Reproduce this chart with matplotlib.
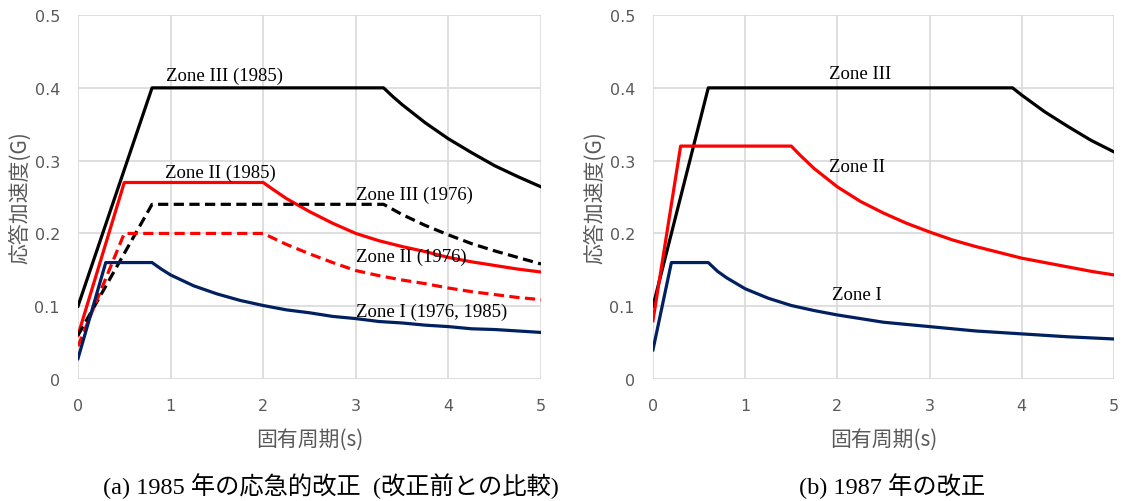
import matplotlib
matplotlib.use("Agg")
import matplotlib.pyplot as plt

# (a) 1985 emergency revision compared with the 1976 code
t_z3_85 = [0, 0.8, 3.3, 3.4, 3.5, 3.75, 4.0, 4.25, 4.5, 4.75, 5.0]
a_z3_85 = [0.10, 0.40, 0.40, 0.388, 0.377, 0.352, 0.330, 0.311, 0.293, 0.278, 0.264]

t_z2_85 = [0, 0.5, 2.0, 2.1, 2.25, 2.5, 2.75, 3.0, 3.25, 3.5, 3.75, 4.0, 4.25, 4.5, 4.75, 5.0]
a_z2_85 = [0.06, 0.27, 0.27, 0.261, 0.248, 0.230, 0.214, 0.200, 0.190, 0.182, 0.175, 0.167, 0.161, 0.156, 0.151, 0.147]

t_z3_76 = [0, 0.8, 3.3, 3.4, 3.5, 3.75, 4.0, 4.25, 4.5, 4.75, 5.0]
a_z3_76 = [0.06, 0.24, 0.24, 0.233, 0.226, 0.211, 0.198, 0.186, 0.176, 0.167, 0.158]

t_z2_76 = [0, 0.5, 2.0, 2.1, 2.25, 2.5, 2.75, 3.0, 3.25, 3.5, 3.75, 4.0, 4.25, 4.5, 4.75, 5.0]
a_z2_76 = [0.045, 0.20, 0.20, 0.194, 0.185, 0.172, 0.160, 0.149, 0.142, 0.136, 0.131, 0.125, 0.120, 0.116, 0.112, 0.109]

t_z1_85 = [0, 0.3, 0.8, 0.9, 1.0, 1.25, 1.5, 1.75, 2.0, 2.25, 2.5, 2.75, 3.0, 3.25, 3.5, 3.75, 4.0, 4.25, 4.5, 4.75, 5.0]
a_z1_85 = [0.028, 0.16, 0.16, 0.151, 0.143, 0.128, 0.117, 0.108, 0.101, 0.095, 0.091, 0.086, 0.083, 0.079, 0.077, 0.074, 0.072, 0.069, 0.068, 0.066, 0.064]

# (b) 1987 revision
t_z3_87 = [0, 0.6, 3.9, 4.0, 4.25, 4.5, 4.75, 5.0]
a_z3_87 = [0.10, 0.40, 0.40, 0.390, 0.367, 0.347, 0.328, 0.312]

t_z2_87 = [0, 0.3, 1.5, 1.6, 1.75, 2.0, 2.25, 2.5, 2.75, 3.0, 3.25, 3.5, 3.75, 4.0, 4.25, 4.5, 4.75, 5.0]
a_z2_87 = [0.08, 0.32, 0.32, 0.307, 0.289, 0.264, 0.244, 0.228, 0.214, 0.202, 0.191, 0.182, 0.174, 0.166, 0.160, 0.154, 0.148, 0.143]

t_z1_87 = [0, 0.2, 0.6, 0.7, 0.8, 1.0, 1.25, 1.5, 1.75, 2.0, 2.5, 3.0, 3.5, 4.0, 4.5, 5.0]
a_z1_87 = [0.04, 0.16, 0.16, 0.148, 0.139, 0.124, 0.111, 0.101, 0.094, 0.088, 0.078, 0.072, 0.066, 0.062, 0.058, 0.055]

NAVY = "#002060"
GRAY = "#595959"
GRID = "#d9d9d9"
JP = ["Noto Sans CJK JP", "DejaVu Sans"]
SERIF_JP = ["Liberation Serif", "Noto Sans CJK JP"]

fig = plt.figure(figsize=(11.25, 5.02), dpi=100)
ax1 = fig.add_axes([0.0693, 0.243, 0.4116, 0.725])
ax2 = fig.add_axes([0.5804, 0.243, 0.4098, 0.725])

for ax in (ax1, ax2):
    ax.set_xlim(0, 5)
    ax.set_ylim(0, 0.5)
    ax.set_xticks([0, 1, 2, 3, 4, 5])
    ax.set_yticks([0, 0.1, 0.2, 0.3, 0.4, 0.5])
    ax.set_yticklabels(["0", "0.1", "0.2", "0.3", "0.4", "0.5"])
    ax.grid(True, color=GRID, lw=1.2)
    ax.set_axisbelow(True)
    for s in ax.spines.values():
        s.set_visible(False)
    ax.tick_params(length=0, labelsize=11.5, labelcolor=GRAY)
    ax.tick_params(axis="x", pad=14)
    ax.tick_params(axis="y", pad=13)
    ax.set_xlabel("固有周期(s)", family=JP, fontsize=15, color=GRAY, labelpad=10)
    ax.set_ylabel("応答加速度(G)", family=JP, fontsize=15, color=GRAY, labelpad=2)

lw = 2.3
dash = (3.2, 1.7)
ax1.plot(t_z3_85, a_z3_85, color="black", lw=lw)
ax1.plot(t_z2_85, a_z2_85, color="red", lw=lw)
ax1.plot(t_z3_76, a_z3_76, color="black", lw=lw, dashes=dash)
ax1.plot(t_z2_76, a_z2_76, color="red", lw=lw, dashes=dash)
ax1.plot(t_z1_85, a_z1_85, color=NAVY, lw=lw)

tx = dict(family="Liberation Serif", fontsize=13.5, color="black", va="center")
ax1.text(0.95, 0.417, "Zone III (1985)", **tx)
ax1.text(0.94, 0.284, "Zone II (1985)", **tx)
ax1.text(3.0, 0.254, "Zone III (1976)", **tx)
ax1.text(3.0, 0.169, "Zone II (1976)", **tx)
ax1.text(3.0, 0.093, "Zone I (1976, 1985)", **tx)

ax2.plot(t_z3_87, a_z3_87, color="black", lw=lw)
ax2.plot(t_z2_87, a_z2_87, color="red", lw=lw)
ax2.plot(t_z1_87, a_z1_87, color=NAVY, lw=lw)

ax2.text(1.91, 0.420, "Zone III", **tx)
ax2.text(1.91, 0.292, "Zone II", **tx)
ax2.text(1.94, 0.116, "Zone I", **tx)

fig.text(0.294, 0.032, "(a) 1985 年の応急的改正  (改正前との比較)", family=SERIF_JP,
         fontsize=17.5, ha="center", va="center")
fig.text(0.793, 0.032, "(b) 1987 年の改正", family=SERIF_JP,
         fontsize=17.5, ha="center", va="center")

fig.savefig("out.png", dpi=100)
